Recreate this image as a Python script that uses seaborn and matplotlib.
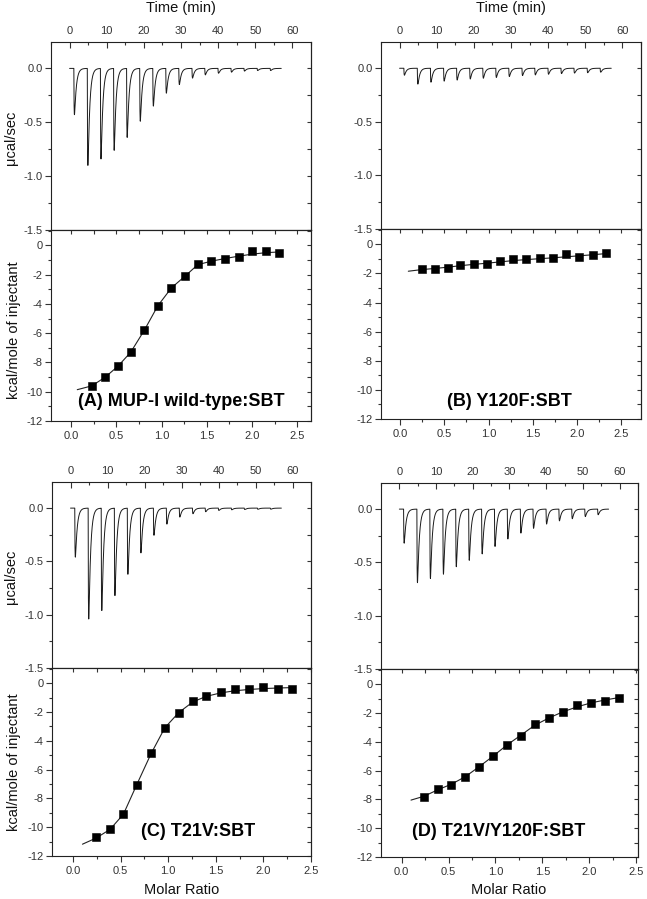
import numpy as np
import pandas as pd
import matplotlib
matplotlib.use("Agg")
import matplotlib.pyplot as plt
from matplotlib.ticker import MultipleLocator, NullFormatter
import seaborn as sns

# ---------------- data ----------------
inj_time = [1.15, 4.77, 8.3, 11.85, 15.35, 18.88, 22.4, 25.9, 29.4, 32.95,
            36.4, 39.95, 43.45, 46.95, 50.5, 54.0]
run_end = 57.0

peak_A = [-0.43, -0.90, -0.84, -0.76, -0.64, -0.49, -0.35, -0.23, -0.15, -0.09,
          -0.06, -0.045, -0.035, -0.025, -0.02, -0.02]
peak_B = [-0.065, -0.148, -0.13, -0.12, -0.11, -0.10, -0.093, -0.086, -0.077, -0.068,
          -0.062, -0.056, -0.05, -0.045, -0.042, -0.037]
peak_C = [-0.46, -1.04, -0.96, -0.82, -0.62, -0.42, -0.255, -0.15, -0.084, -0.053,
          -0.034, -0.022, -0.016, -0.013, -0.011, -0.01]
peak_D = [-0.32, -0.69, -0.65, -0.61, -0.54, -0.48, -0.42, -0.35, -0.28, -0.225,
          -0.18, -0.14, -0.11, -0.09, -0.07, -0.053]

ratio_A = [0.23, 0.38, 0.52, 0.66, 0.81, 0.96, 1.11, 1.26, 1.40, 1.55, 1.70, 1.85, 2.00, 2.15, 2.30]
heat_A = [-9.63, -9.0, -8.24, -7.31, -5.78, -4.11, -2.90, -2.12, -1.28, -1.07,
          -0.96, -0.78, -0.41, -0.39, -0.50]
fitx_A = [0.07, 0.23, 0.38, 0.52, 0.66, 0.81, 0.96, 1.11, 1.26, 1.40, 1.55, 1.70, 1.85, 2.00, 2.15, 2.30]
fity_A = [-9.86, -9.6, -9.0, -8.25, -7.3, -5.8, -4.12, -2.9, -2.1, -1.32, -1.08, -0.9, -0.74,
          -0.6, -0.5, -0.45]

ratio_B = [0.24, 0.39, 0.54, 0.68, 0.83, 0.98, 1.13, 1.28, 1.43, 1.58, 1.73, 1.88, 2.03, 2.18, 2.33]
heat_B = [-1.71, -1.67, -1.60, -1.39, -1.33, -1.33, -1.17, -1.01, -1.01, -0.96,
          -0.96, -0.69, -0.85, -0.71, -0.62]
fitx_B = [0.09, 0.24, 0.39, 0.54, 0.68, 0.83, 0.98, 1.13, 1.28, 1.43, 1.58, 1.73, 1.88, 2.03, 2.18, 2.33]
fity_B = [-1.85, -1.74, -1.66, -1.57, -1.47, -1.38, -1.30, -1.21, -1.12, -1.05, -0.99, -0.93,
          -0.86, -0.79, -0.72, -0.64]

ratio_C = [0.245, 0.39, 0.53, 0.67, 0.82, 0.965, 1.11, 1.26, 1.40, 1.55, 1.70, 1.85, 2.00, 2.15, 2.30]
heat_C = [-10.71, -10.16, -9.08, -7.07, -4.86, -3.11, -2.05, -1.24, -0.90, -0.62,
          -0.39, -0.44, -0.30, -0.41, -0.39]
fitx_C = [0.10, 0.245, 0.39, 0.53, 0.67, 0.82, 0.965, 1.11, 1.26, 1.40, 1.55, 1.70, 1.85, 2.00, 2.15, 2.30]
fity_C = [-11.18, -10.75, -10.15, -9.1, -7.05, -4.9, -3.1, -2.05, -1.3, -0.92, -0.68, -0.53,
          -0.44, -0.38, -0.34, -0.31]

ratio_D = [0.24, 0.39, 0.53, 0.68, 0.825, 0.975, 1.12, 1.27, 1.42, 1.57, 1.72, 1.87, 2.02, 2.17, 2.32]
heat_D = [-7.81, -7.30, -6.98, -6.42, -5.74, -5.02, -4.23, -3.58, -2.77, -2.33,
          -1.91, -1.44, -1.28, -1.16, -0.93]
fitx_D = [0.10, 0.24, 0.39, 0.53, 0.68, 0.825, 0.975, 1.12, 1.27, 1.42, 1.57, 1.72, 1.87, 2.02, 2.17, 2.32]
fity_D = [-8.05, -7.78, -7.32, -6.95, -6.42, -5.74, -5.0, -4.24, -3.55, -2.85, -2.35, -1.92,
          -1.58, -1.3, -1.1, -0.93]

labels = ["(A) MUP-I wild-type:SBT", "(B) Y120F:SBT", "(C) T21V:SBT", "(D) T21V/Y120F:SBT"]

# ---------------- style ----------------
sns.set_theme(style="ticks")
plt.rcParams["font.family"] = ["Liberation Sans", "DejaVu Sans"]
plt.rcParams["axes.linewidth"] = 0.8
plt.rcParams["axes.edgecolor"] = "#222222"

W, H = 647, 899
fig = plt.figure(figsize=(W / 100, H / 100), dpi=100)
fig.patch.set_facecolor("white")


def rect(l, t, r, b):
    return [l / W, 1 - b / H, (r - l) / W, (b - t) / H]


def ftext(x, y, s, **kw):
    fig.text(x / W, 1 - y / H, s, **kw)


TICK_FS = 8
TICK_COLOR = "#333333"


def thermogram(depths):
    """Baseline trace built from the injection times and read peak depths."""
    t = np.arange(0.0, run_end, 0.01)
    y = np.zeros_like(t)
    tr, td = 0.07, 0.48
    tpk = tr * td / (td - tr) * np.log(td / tr)
    norm = np.exp(-tpk / td) - np.exp(-tpk / tr)
    for ti, d in zip(inj_time, depths):
        m = t >= ti
        dt = t[m] - ti
        y[m] += d * (np.exp(-dt / td) - np.exp(-dt / tr)) / norm
    return pd.DataFrame({"time": t, "power": y})


def style_top(ax):
    ax.set_xlim(-5, 65)
    ax.set_ylim(-1.5, 0.245)
    ax.xaxis.set_major_locator(MultipleLocator(10))
    ax.xaxis.set_minor_locator(MultipleLocator(5))
    ax.yaxis.set_minor_locator(MultipleLocator(0.25))
    ax.set_yticks([0.0, -0.5, -1.0, -1.5])
    ax.set_yticklabels(["0.0", "-0.5", "-1.0", "-1.5"])
    ax.tick_params(axis="x", which="both", direction="in", top=True, bottom=False,
                   labeltop=True, labelbottom=False, labelsize=TICK_FS, pad=4.5,
                   width=0.8, colors=TICK_COLOR)
    ax.tick_params(axis="x", which="major", length=4)
    ax.tick_params(axis="x", which="minor", length=2.5)
    ax.tick_params(axis="y", which="both", direction="out", left=True, right=False,
                   labelsize=TICK_FS, width=0.8, colors=TICK_COLOR, pad=2)
    ax.tick_params(axis="y", which="major", length=4)
    ax.tick_params(axis="y", which="minor", length=2.5)
    sec = ax.secondary_yaxis("right")
    sec.yaxis.set_major_locator(MultipleLocator(0.25))
    sec.yaxis.set_major_formatter(NullFormatter())
    sec.tick_params(direction="in", length=3, width=0.8, colors=TICK_COLOR)
    sec.spines["right"].set_linewidth(0.8)
    ax.set_xlabel("")
    ax.set_ylabel("")
    for s in ax.spines.values():
        s.set_visible(True)
        s.set_linewidth(0.8)


def style_bottom(ax, xmax):
    ax.set_xlim(-0.22, xmax)
    ax.set_ylim(-12, 1.05)
    ax.xaxis.set_major_locator(MultipleLocator(0.5))
    ax.xaxis.set_minor_locator(MultipleLocator(0.25))
    ax.set_yticks([0, -2, -4, -6, -8, -10, -12])
    ax.set_yticklabels(["0", "-2", "-4", "-6", "-8", "-10", "-12"])
    ax.yaxis.set_minor_locator(MultipleLocator(1))
    ax.tick_params(axis="x", which="both", direction="out", bottom=True, top=False,
                   labelsize=TICK_FS, width=0.8, colors=TICK_COLOR, pad=3)
    ax.tick_params(axis="x", which="major", length=4)
    ax.tick_params(axis="x", which="minor", length=2.5)
    ax.tick_params(axis="y", which="both", direction="out", left=True, right=False,
                   labelsize=TICK_FS, width=0.8, colors=TICK_COLOR, pad=2)
    ax.tick_params(axis="y", which="major", length=4)
    ax.tick_params(axis="y", which="minor", length=2.5)
    secy = ax.secondary_yaxis("right")
    secy.yaxis.set_major_locator(MultipleLocator(1))
    secy.yaxis.set_major_formatter(NullFormatter())
    secy.tick_params(direction="in", length=3, width=0.8, colors=TICK_COLOR)
    secx = ax.secondary_xaxis("top")
    secx.xaxis.set_major_locator(MultipleLocator(0.25))
    secx.xaxis.set_major_formatter(NullFormatter())
    secx.tick_params(direction="in", length=3, width=0.8, colors=TICK_COLOR)
    ax.set_xlabel("")
    ax.set_ylabel("")
    for s in ax.spines.values():
        s.set_visible(True)
        s.set_linewidth(0.8)


panels = [
    dict(top=(51, 42, 311, 230), bot=(51, 230, 311, 421), xmax=2.65,
         peaks=peak_A, rx=ratio_A, hy=heat_A, fx=fitx_A, fy=fity_A, lab=(181.7, 401)),
    dict(top=(381, 42, 641, 229), bot=(381, 229, 641, 419), xmax=2.73,
         peaks=peak_B, rx=ratio_B, hy=heat_B, fx=fitx_B, fy=fity_B, lab=(509, 401)),
    dict(top=(52, 482, 311, 668), bot=(52, 668, 311, 856), xmax=2.5,
         peaks=peak_C, rx=ratio_C, hy=heat_C, fx=fitx_C, fy=fity_C, lab=(198, 832)),
    dict(top=(381, 483, 638, 669), bot=(381, 669, 638, 857), xmax=2.52,
         peaks=peak_D, rx=ratio_D, hy=heat_D, fx=fitx_D, fy=fity_D, lab=(498.7, 832)),
]

for p, lab in zip(panels, labels):
    axt = fig.add_axes(rect(*p["top"]))
    df = thermogram(p["peaks"])
    sns.lineplot(data=df, x="time", y="power", ax=axt, color="#1a1a1a",
                 linewidth=0.7, estimator=None, sort=False)
    style_top(axt)

    axb = fig.add_axes(rect(*p["bot"]))
    fit = pd.DataFrame({"ratio": p["fx"], "heat": p["fy"]})
    sns.lineplot(data=fit, x="ratio", y="heat", ax=axb, color="#222222",
                 linewidth=0.8, estimator=None, sort=False)
    pts = pd.DataFrame({"ratio": p["rx"], "heat": p["hy"]})
    sns.scatterplot(data=pts, x="ratio", y="heat", ax=axb, marker="s", s=30,
                    color="black", edgecolor="black", linewidth=0.4, zorder=3)
    style_bottom(axb, p["xmax"])

    ftext(p["lab"][0], p["lab"][1], lab, ha="center", va="center",
          fontsize=13, fontweight="bold", color="black")

# axis titles
ftext(181, 8, "Time (min)", ha="center", va="center", fontsize=10.5, color="#111111")
ftext(511, 8, "Time (min)", ha="center", va="center", fontsize=10.5, color="#111111")
ftext(182, 890, "Molar Ratio", ha="center", va="center", fontsize=10.5, color="#111111")
ftext(509, 890, "Molar Ratio", ha="center", va="center", fontsize=10.5, color="#111111")
ftext(11, 138, "\u03bccal/sec", ha="center", va="center", rotation=90, fontsize=10.5, color="#111111")
ftext(11, 577, "\u03bccal/sec", ha="center", va="center", rotation=90, fontsize=10.5, color="#111111")
ftext(14, 330, "kcal/mole of injectant", ha="center", va="center", rotation=90,
      fontsize=10.5, color="#111111")
ftext(14, 762, "kcal/mole of injectant", ha="center", va="center", rotation=90,
      fontsize=10.5, color="#111111")

fig.savefig("out.png", dpi=100, facecolor="white")
